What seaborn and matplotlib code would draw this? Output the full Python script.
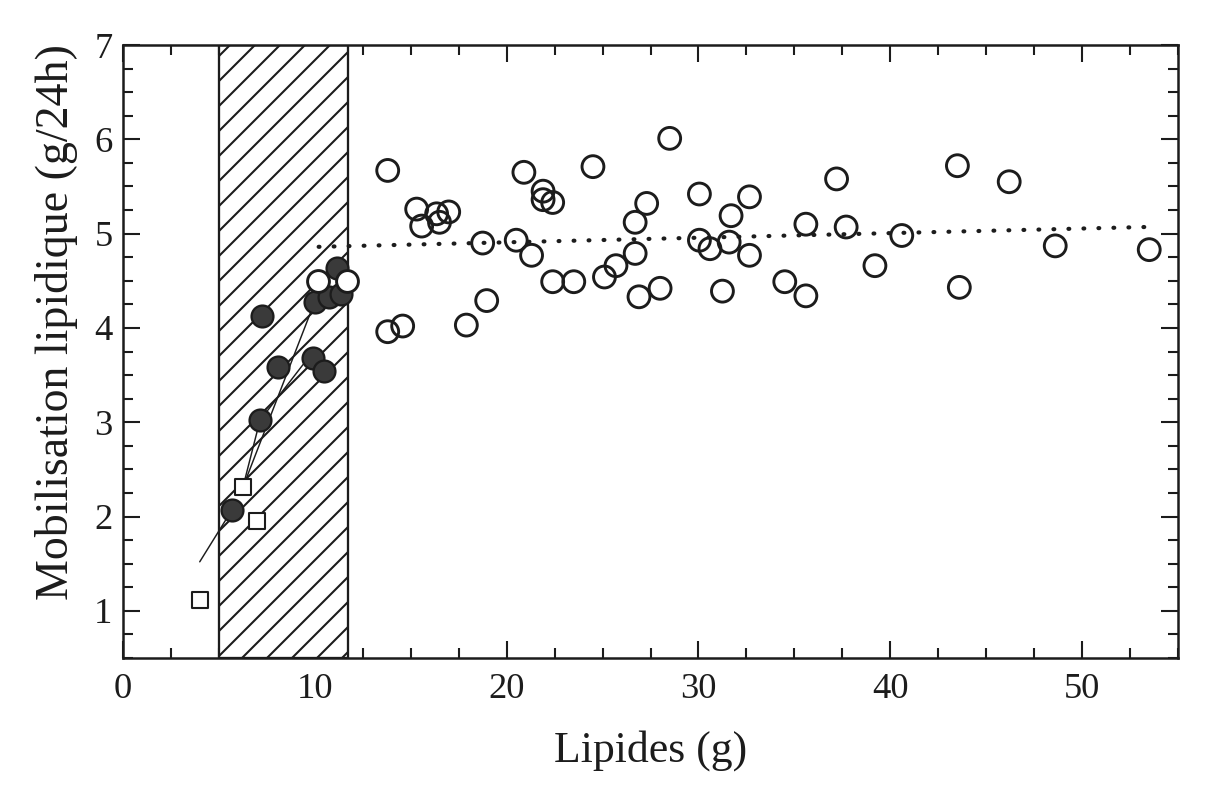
import numpy as np
import pandas as pd
import matplotlib
matplotlib.use("Agg")
import matplotlib.pyplot as plt
import seaborn as sns
from matplotlib.ticker import MultipleLocator

# Open circles: subjects above the threshold band
open_x = [13.8, 13.8, 14.58, 15.31, 15.57, 16.35, 16.98, 16.5, 18.75, 18.96,
          17.9, 20.5, 21.3, 20.9, 21.9, 21.9, 22.4, 22.4, 23.5, 24.5,
          25.1, 25.7, 26.7, 27.3, 26.7, 26.9, 28.0, 28.5, 30.05, 30.05,
          30.6, 31.25, 31.7, 31.6, 32.66, 32.66, 34.5, 35.6, 35.6, 37.2,
          37.7, 39.2, 40.6, 43.5, 43.6, 46.2, 48.6, 53.5]
open_y = [5.67, 3.96, 4.02, 5.26, 5.08, 5.21, 5.23, 5.12, 4.90, 4.29,
          4.03, 4.93, 4.77, 5.65, 5.45, 5.36, 5.33, 4.49, 4.49, 5.71,
          4.54, 4.66, 5.12, 5.32, 4.79, 4.33, 4.42, 6.01, 5.42, 4.93,
          4.84, 4.39, 5.19, 4.91, 5.39, 4.77, 4.49, 4.34, 5.10, 5.58,
          5.07, 4.66, 4.98, 5.72, 4.43, 5.55, 4.87, 4.83]

# Open circles sitting inside the hatched band
band_open_x = [10.16, 11.67]
band_open_y = [4.50, 4.50]

# Filled circles
filled_x = [5.68, 7.14, 7.24, 8.07, 9.9, 10.5, 10.0, 10.75, 11.35, 11.15]
filled_y = [2.07, 3.02, 4.13, 3.59, 3.68, 3.54, 4.28, 4.33, 4.36, 4.64]

# Open squares
square_x = [4.01, 6.25, 6.98]
square_y = [1.12, 2.31, 1.95]

# Connecting segments (one id per polyline)
path_id = [0, 0, 1, 1, 1, 2, 2]
path_x = [4.0, 5.68, 6.25, 7.14, 9.8, 6.25, 10.0]
path_y = [1.52, 2.07, 2.31, 3.02, 3.72, 2.31, 4.28]

# Plateau (dotted)
trend_x = [10.2, 53.3]
trend_y = [4.86, 5.07]

# Hatched band limits
band_lo, band_hi = 5.0, 11.75

ink = "#1c1c1c"

sns.set_style("ticks")
plt.rcParams["font.family"] = ["Liberation Serif", "DejaVu Serif"]
plt.rcParams["hatch.linewidth"] = 1.0
plt.rcParams["hatch.color"] = ink

fig = plt.figure(figsize=(1205 / 150, 790 / 150), dpi=150)
ax = fig.add_axes([123 / 1205, 1 - 658 / 790, (1178 - 123) / 1205, (658 - 45) / 790])

ax.axvspan(band_lo, band_hi, facecolor="white", edgecolor=ink, hatch="//",
           linewidth=1.1, zorder=1)

paths = pd.DataFrame({"id": path_id, "x": path_x, "y": path_y})
sns.lineplot(data=paths, x="x", y="y", units="id", estimator=None, sort=False,
             color=ink, linewidth=0.7, ax=ax, zorder=2, legend=False)

ax.plot(trend_x, trend_y, color=ink, linewidth=2.0, dashes=(0.2, 3.4),
        dash_capstyle="round", zorder=2)

sns.scatterplot(x=filled_x, y=filled_y, marker="o", s=110, color="#3a3a3a",
                edgecolor=ink, linewidth=1.1, ax=ax, zorder=3)
sns.scatterplot(x=open_x, y=open_y, marker="o", s=110, facecolor="none",
                edgecolor=ink, linewidth=1.4, ax=ax, zorder=4)
sns.scatterplot(x=band_open_x, y=band_open_y, marker="o", s=110, facecolor="white",
                edgecolor=ink, linewidth=1.4, ax=ax, zorder=4)
sns.scatterplot(x=square_x, y=square_y, marker="s", s=60, facecolor="white",
                edgecolor=ink, linewidth=1.0, ax=ax, zorder=4)

ax.set_xlim(0, 55)
ax.set_ylim(0.5, 7)
ax.xaxis.set_major_locator(MultipleLocator(10))
ax.xaxis.set_minor_locator(MultipleLocator(2.5))
ax.yaxis.set_major_locator(MultipleLocator(1))
ax.yaxis.set_minor_locator(MultipleLocator(0.25))
ax.set_yticks([1, 2, 3, 4, 5, 6, 7])

for s in ax.spines.values():
    s.set_visible(True)
    s.set_linewidth(1.2)
    s.set_color(ink)

ax.tick_params(which="both", direction="in", top=True, right=True, color=ink,
               width=1.0, labelcolor=ink)
ax.tick_params(which="major", length=8, labelsize=17.5)
ax.tick_params(which="minor", length=5)
ax.tick_params(axis="x", which="major", pad=7)
ax.tick_params(axis="y", which="major", pad=5)

ax.set_xlabel("Lipides (g)", fontsize=21, color=ink)
ax.set_ylabel("Mobilisation lipidique (g/24h)", fontsize=22, color=ink)
ax.xaxis.set_label_coords(0.5, -0.118)
ax.yaxis.set_label_coords(-0.043, 0.548)

fig.savefig("out.png", dpi=150, facecolor="white")
